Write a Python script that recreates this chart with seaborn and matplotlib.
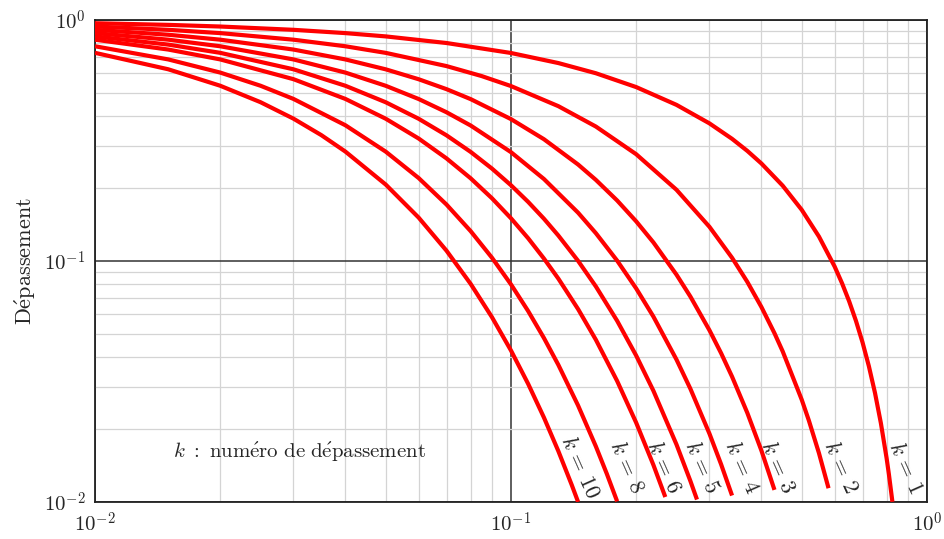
import numpy as np
import pandas as pd
import seaborn as sns
import matplotlib
matplotlib.use("Agg")
import matplotlib.pyplot as plt

# curves (x: damping ratio, y: overshoot)
k1_x = [0.01, 0.015, 0.02, 0.03, 0.04, 0.05, 0.07, 0.1, 0.13, 0.16, 0.2, 0.25, 0.3, 0.34, 0.37, 0.4, 0.45, 0.5, 0.55, 0.6, 0.625, 0.65, 0.675, 0.7, 0.725, 0.75, 0.775, 0.8, 0.81, 0.826]
k1_y = [0.9691, 0.9540, 0.9391, 0.9100, 0.8818, 0.8545, 0.8022, 0.7293, 0.6624, 0.6010, 0.5266, 0.4443, 0.3723, 0.3212, 0.2862, 0.2538, 0.2053, 0.1630, 0.1263, 0.09478, 0.08084, 0.06808, 0.05647, 0.04599, 0.03663, 0.02838, 0.02122, 0.01517, 0.01305, 0.01002]

k2_x = [0.01, 0.015, 0.02, 0.03, 0.04, 0.05, 0.07, 0.085, 0.1, 0.13, 0.16, 0.2, 0.25, 0.3, 0.34, 0.37, 0.4, 0.43, 0.45, 0.5, 0.52, 0.55, 0.58]
k2_y = [0.9391, 0.9100, 0.8819, 0.8281, 0.7776, 0.7301, 0.6435, 0.5851, 0.5318, 0.4388, 0.3612, 0.2773, 0.1974, 0.1386, 0.1031, 0.08189, 0.06443, 0.05016, 0.04217, 0.02658, 0.02182, 0.01596, 0.01141]

k3_x = [0.01, 0.015, 0.02, 0.03, 0.04, 0.05, 0.06, 0.07, 0.08, 0.1, 0.12, 0.145, 0.16, 0.18, 0.2, 0.22, 0.25, 0.27, 0.3, 0.32, 0.34, 0.37, 0.4, 0.43]
k3_y = [0.9101, 0.8682, 0.8282, 0.7536, 0.6857, 0.6239, 0.5675, 0.5162, 0.4694, 0.3878, 0.3201, 0.2513, 0.2170, 0.1782, 0.1460, 0.1194, 0.08773, 0.07116, 0.05161, 0.04145, 0.03313, 0.02343, 0.01635, 0.01123]

k4_x = [0.01, 0.015, 0.02, 0.03, 0.04, 0.05, 0.06, 0.07, 0.08, 0.1, 0.12, 0.145, 0.16, 0.18, 0.2, 0.22, 0.25, 0.27, 0.3, 0.32, 0.34]
k4_y = [0.8819, 0.8282, 0.7777, 0.6858, 0.6047, 0.5331, 0.4698, 0.4140, 0.3648, 0.2828, 0.2189, 0.1586, 0.1304, 0.1003, 0.07691, 0.05878, 0.03898, 0.02949, 0.01922, 0.01434, 0.01064]

k5_x = [0.01, 0.015, 0.02, 0.03, 0.04, 0.05, 0.06, 0.07, 0.08, 0.09, 0.1, 0.11, 0.12, 0.13, 0.145, 0.16, 0.18, 0.2, 0.22, 0.25, 0.27, 0.28]
k5_y = [0.8546, 0.7901, 0.7304, 0.6241, 0.5332, 0.4555, 0.3890, 0.3321, 0.2835, 0.2418, 0.2062, 0.1758, 0.1498, 0.1275, 0.1001, 0.07839, 0.05645, 0.04050, 0.02894, 0.01732, 0.01222, 0.01024]

k6_x = [0.01, 0.015, 0.02, 0.03, 0.04, 0.05, 0.06, 0.07, 0.08, 0.09, 0.1, 0.11, 0.12, 0.13, 0.145, 0.16, 0.18, 0.2, 0.22, 0.235]
k6_y = [0.8282, 0.7537, 0.6859, 0.5679, 0.4702, 0.3892, 0.3221, 0.2664, 0.2203, 0.1821, 0.1504, 0.1242, 0.1024, 0.08447, 0.06314, 0.04711, 0.03177, 0.02133, 0.01425, 0.01049]

k8_x = [0.01, 0.015, 0.02, 0.025, 0.03, 0.04, 0.05, 0.06, 0.07, 0.08, 0.09, 0.1, 0.11, 0.12, 0.13, 0.145, 0.16, 0.17, 0.18]
k8_y = [0.7778, 0.6859, 0.6049, 0.5334, 0.4703, 0.3656, 0.2842, 0.2208, 0.1714, 0.1330, 0.1032, 0.07998, 0.06195, 0.04794, 0.03706, 0.02514, 0.01701, 0.01309, 0.01006]

k10_x = [0.01, 0.015, 0.02, 0.025, 0.03, 0.035, 0.04, 0.05, 0.06, 0.07, 0.08, 0.09, 0.1, 0.11, 0.12, 0.13, 0.14, 0.145]
k10_y = [0.7304, 0.6242, 0.5334, 0.4558, 0.3895, 0.3328, 0.2843, 0.2075, 0.1513, 0.1103, 0.08035, 0.05849, 0.04254, 0.03090, 0.02243, 0.01626, 0.01177, 0.01001]

k_values = [1, 2, 3, 4, 5, 6, 8, 10]
curves_x = [k1_x, k2_x, k3_x, k4_x, k5_x, k6_x, k8_x, k10_x]
curves_y = [k1_y, k2_y, k3_y, k4_y, k5_y, k6_y, k8_y, k10_y]

# where the "k = .." labels sit
label_x = [0.890, 0.621, 0.4385, 0.359, 0.2877, 0.2333, 0.190, 0.1466]
label_y = 0.01397

rows = []
for k, xs, ys in zip(k_values, curves_x, curves_y):
    for x, y in zip(xs, ys):
        rows.append({"k": str(k), "xi": x, "D": y})
df = pd.DataFrame(rows)

sns.set_style("white")
plt.rcParams['mathtext.fontset'] = 'cm'
plt.rcParams['font.family'] = ['cmr10', 'DejaVu Serif']

fig = plt.figure(figsize=(9.45, 5.39), dpi=100)
ax = fig.add_axes([0.1005, 0.0686, 0.8804, 0.8944])

sns.lineplot(data=df, x="xi", y="D", hue="k", palette={str(k): "#ff0000" for k in k_values},
             sort=False, estimator=None, legend=False, linewidth=3.0, ax=ax, zorder=3)
for line in ax.get_lines():
    line.set_solid_joinstyle('round')
    line.set_solid_capstyle('butt')

ax.set_xscale('log')
ax.set_yscale('log')
ax.set_xlim(0.01, 1)
ax.set_ylim(0.01, 1)

ax.set_xticks([0.01, 0.1, 1])
ax.set_xticklabels([r'$10^{-2}$', r'$10^{-1}$', r'$10^{0}$'])
ax.set_yticks([0.01, 0.1, 1])
ax.set_yticklabels([r'$10^{-2}$', r'$10^{-1}$', r'$10^{0}$'])
ax.xaxis.set_minor_locator(matplotlib.ticker.LogLocator(base=10, subs=np.arange(2, 10)))
ax.yaxis.set_minor_locator(matplotlib.ticker.LogLocator(base=10, subs=np.arange(2, 10)))
ax.xaxis.set_minor_formatter(matplotlib.ticker.NullFormatter())
ax.yaxis.set_minor_formatter(matplotlib.ticker.NullFormatter())

ax.grid(which='minor', color='#d4d4d4', linewidth=0.9, zorder=0)
ax.grid(which='major', color='#333333', linewidth=1.1, zorder=1)
ax.set_axisbelow(True)
ax.tick_params(which='both', length=0, labelsize=15, pad=7)
for s in ax.spines.values():
    s.set_color('#222222')
    s.set_linewidth(1.3)

ax.set_xlabel('')
ax.set_ylabel(r'$\mathrm{D\acute{e}passement}$', fontsize=16, labelpad=4)

for k, lx in zip(k_values, label_x):
    ax.text(lx, label_y, r'$k\,=\,%d$' % k, rotation=-66, ha='center', va='center',
            fontsize=16, rotation_mode='anchor', zorder=4)

ax.text(0.246, 0.104, r'$k\ :\ \mathrm{num\acute{e}ro\ de\ d\acute{e}passement}$',
        transform=ax.transAxes, ha='center', va='center', fontsize=15)

plt.savefig("out.png", dpi=100)
